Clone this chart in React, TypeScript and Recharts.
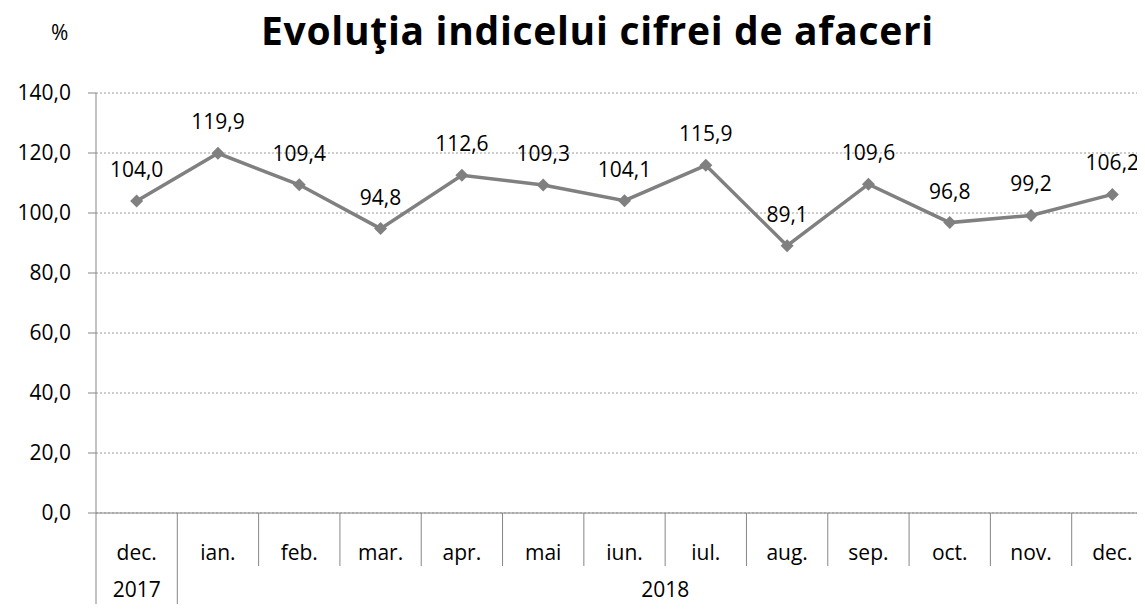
import { CartesianGrid, LabelList, Line, LineChart, XAxis, YAxis } from "recharts";

const months = ["dec.", "ian.", "feb.", "mar.", "apr.", "mai", "iun.", "iul.", "aug.", "sep.", "oct.", "nov.", "dec."];
const years = ["2017", "2018", "2018", "2018", "2018", "2018", "2018", "2018", "2018", "2018", "2018", "2018", "2018"];
const values = [104.0, 119.9, 109.4, 94.8, 112.6, 109.3, 104.1, 115.9, 89.1, 109.6, 96.8, 99.2, 106.2];
const yTicks = [0, 20, 40, 60, 80, 100, 120, 140];

const data = months.map((m, i) => ({ key: `${i}`, month: m, year: years[i], value: values[i] }));

const FONT = "'Open Sans', Lato, sans-serif";
const AXIS = "#868686";
const CHART_W = 1153;
const CHART_H = 612;
const Y_AXIS_W = 96;
const BAND = (CHART_W - Y_AXIS_W) / months.length;

const fmt = (v: number) => v.toFixed(1).replace(".", ",");

function MonthTick(props: any) {
  const { x, y, payload } = props;
  const i = Number(payload.value);
  const row = 53;
  const full = CHART_H - y;
  const lastOfYear = i === years.length - 1 || years[i + 1] !== years[i];
  const firstOfYear = i === 0 || years[i - 1] !== years[i];
  let yearLabel = null;
  if (firstOfYear) {
    let j = i;
    while (j + 1 < years.length && years[j + 1] === years[i]) j++;
    const cx = x + ((j - i) * BAND) / 2;
    yearLabel = (
      <text x={cx} y={y + 84} textAnchor="middle" fontSize={21} fill="#000" fontFamily={FONT}>
        {years[i]}
      </text>
    );
  }
  return (
    <g>
      {i === 0 && <line x1={x - BAND / 2} x2={x - BAND / 2} y1={y} y2={y + full} stroke={AXIS} />}
      <line x1={x + BAND / 2} x2={x + BAND / 2} y1={y} y2={y + (lastOfYear ? full : row)} stroke={AXIS} />
      <text x={x} y={y + 47} textAnchor="middle" fontSize={21} fill="#000" fontFamily={FONT}>
        {months[i]}
      </text>
      {yearLabel}
    </g>
  );
}

function Diamond(props: any) {
  const { cx, cy } = props;
  if (cx == null || cy == null) return null;
  const r = 6.5;
  return (
    <polygon
      points={`${cx},${cy - r} ${cx + r},${cy} ${cx},${cy + r} ${cx - r},${cy}`}
      fill="#808080"
      stroke="none"
    />
  );
}

export default function App() {
  return (
    <div style={{ margin: -8, width: 1145, height: 612, overflow: "hidden", position: "relative", background: "#fff" }}>
      <div style={{ position: "absolute", left: 51, top: 18, fontSize: 21, fontFamily: FONT }}>%</div>
      <div
        style={{
          position: "absolute",
          left: 0,
          width: 1195,
          top: 10,
          textAlign: "center",
          fontSize: 39,
          fontWeight: 700,
          fontFamily: FONT,
          lineHeight: "39px",
          letterSpacing: 0.7,
        }}
      >
        Evoluţia indicelui cifrei de afaceri
      </div>
      <LineChart width={CHART_W} height={CHART_H} data={data} margin={{ top: 93, right: 0, bottom: 0, left: 0 }}>
        <CartesianGrid vertical={false} stroke="#9a9a9a" strokeDasharray="2 2" />
        <XAxis
          dataKey="key"
          scale="band"
          height={CHART_H - 93 - 420}
          stroke={AXIS}
          tickLine={false}
          tickSize={0}
          tickMargin={0}
          interval={0}
          tick={<MonthTick />}
        />
        <YAxis
          width={Y_AXIS_W}
          domain={[0, 140]}
          ticks={yTicks}
          tickFormatter={fmt}
          stroke={AXIS}
          tickSize={8}
          tick={{ fill: "#000", fontSize: 21, fontFamily: FONT }}
          tickMargin={17}
        />
        <Line
          dataKey="value"
          stroke="#808080"
          strokeWidth={3.5}
          dot={<Diamond />}
          activeDot={false}
          isAnimationActive={false}
        >
          <LabelList
            dataKey="value"
            position="top"
            offset={24}
            formatter={(v: any) => fmt(Number(v))}
            style={{ fill: "#000", fontSize: 21, fontFamily: FONT }}
          />
        </Line>
      </LineChart>
    </div>
  );
}
